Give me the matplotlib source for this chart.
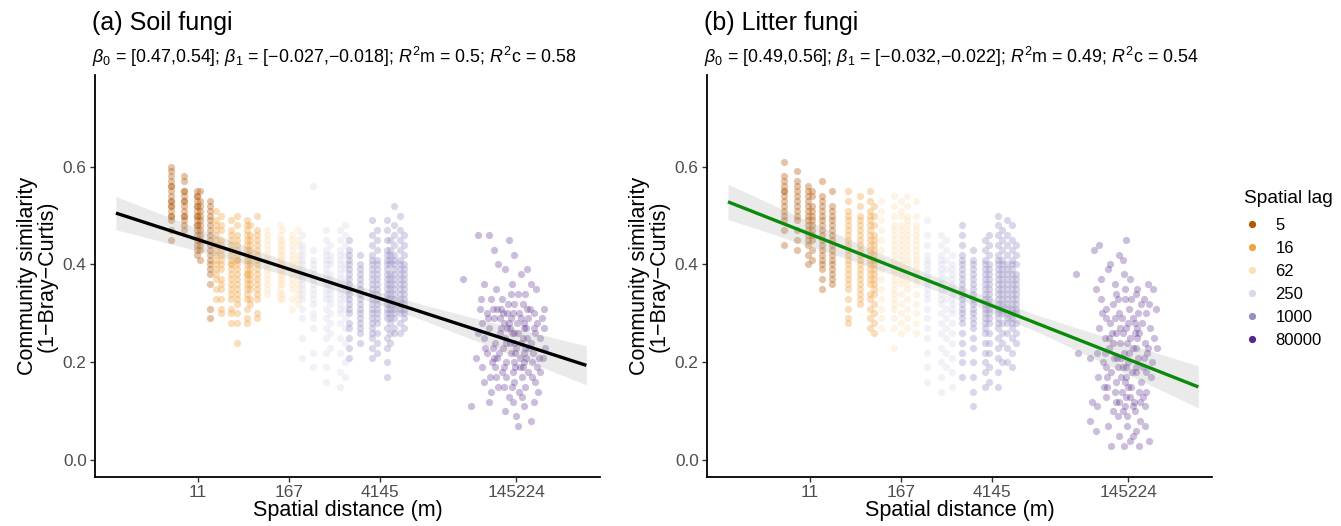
import numpy as np
import matplotlib
matplotlib.use("Agg")
import matplotlib.pyplot as plt
from matplotlib.lines import Line2D

plt.rcParams['font.family'] = ['Liberation Sans', 'DejaVu Sans']
plt.rcParams['mathtext.fontset'] = 'custom'
plt.rcParams['mathtext.rm'] = 'Liberation Sans'
plt.rcParams['mathtext.it'] = 'Liberation Sans:italic'

# ---------------- data ----------------
lag_labels = ['5', '16', '62', '250', '1000', '80000']
lag_colors = ['#b35806', '#f1a340', '#fee0b6', '#d8daeb', '#998ec3', '#542788']

x_tick_pos = [1, 2, 3, 4.5]
x_tick_labels = ['11', '167', '4145', '145224']

# stripes: (position on distance axis, lag index, similarity values x100)
soil_stripes = [
    (0.71, 0, "60 59 58 57 56 56 55 54 53 53 52 52 51 50 50 49 47 45"),
    (0.85, 0, "58 57 55 55 54 53 53 52 51 50 50 49 48 47"),
    (0.99, 0, "55 54 54 53 52 52 51 50 50 49 48 48 47 46 45 44 43 42"),
    (1.02, 0, "55 53 52 51 50 49 48 47 46 45 44 43 41"),
    (1.13, 0, "53 52 51 50 49 48 47 46 45 44 43 42 41 40 39 38 36 31 29"),
    (1.20, 1, "51 49 48 47 46 45 44 43 42 41 40 39 38 37 35 33"),
    (1.25, 1, "50 48 47 45 44 43 42 41 40 39 37 36 35 33 31 30"),
    (1.37, 1, "49 47 46 45 44 43 42 41 40 40 39 38 37 36 35 34 33 31 30 28"),
    (1.43, 1, "50 48 46 45 44 43 42 41 41 40 39 38 37 36 35 34 33 32 30 28 24"),
    (1.54, 1, "49 48 47 46 45 44 43 42 41 40 39 38 38 37 36 35 34 33 31 29 28"),
    (1.57, 1, "48 46 45 44 43 42 41 40 39 38 37 36 35 33 32"),
    (1.65, 1, "50 47 46 45 44 43 42 41 40 39 38 37 36 35 34 33 30 29"),
    (1.76, 2, "47 46 45 44 43 42 41 40 39 38 37 36 35 34"),
    (1.90, 2, "48 46 45 44 43 42 41 40 39 38 37 36 35 34 33"),
    (1.93, 2, "47 45 44 43 42 41 40 39 38 37 36 34 33"),
    (2.04, 2, "46 45 44 43 42 41 40 39 38 37 36 35 33 31"),
    (2.10, 2, "47 45 44 42 41 40 39 38 37 36 35 34 33 32"),
    (2.15, 3, "46 44 43 42 41 40 39 38 37 36 35 34 33 31 29 25 21"),
    (2.27, 3, "56 43 41 40 39 38 37 36 35 34 33 32 30 29 27 22 19"),
    (2.41, 3, "47 45 43 42 41 40 39 38 37 36 35 34 33 31 29 27 25 22 19 16"),
    (2.45, 3, "44 42 41 40 38 37 36 35 34 33 32 30 28 26 23"),
    (2.56, 3, "47 45 43 42 41 40 39 38 37 36 35 34 33 32 31 30 28 25 22 18 15"),
    (2.62, 3, "48 46 44 42 40 39 37 36 35 34 33 31 29 27 24 20 17"),
    (2.66, 4, "45 43 42 41 40 39 38 37 36 35 34 33 32 31 30 28 27 25 23 21"),
    (2.78, 4, "42 40 39 38 37 36 35 34 33 32 31 30 29 28 27 26 24"),
    (2.91, 4, "49 46 44 42 41 40 39 38 37 36 35 34 33 32 31 30 29 28 27 26 25 23 21"),
    (2.97, 4, "47 45 43 41 40 39 38 37 36 35 34 33 32 31 30 29 28 26 24 22"),
    (3.08, 4, "49 47 45 43 42 41 40 39 38 37 36 35 34 33 32 31 30 29 27 25 23 20 17"),
    (3.11, 4, "45 43 42 41 40 38 37 36 35 34 33 32 31 30 29 28 26 24"),
    (3.16, 4, "52 48 46 44 42 41 40 39 38 37 36 35 34 33 32 31 30 29 27 26"),
    (3.22, 4, "50 47 45 43 41 40 39 38 37 36 35 34 33 32 31 30 28 26"),
    (3.27, 4, "46 44 42 40 39 38 37 36 35 34 33 32 31 30 29 27"),
]

litter_stripes = [
    (0.72, 0, "61 58 57 56 55 55 54 53 52 51 50 49 47 44"),
    (0.86, 0, "59 57 56 55 54 53 52 51 50 49 47 45 43"),
    (0.98, 0, "56 55 54 53 52 51 50 49 48 47 46 45 44 42 40"),
    (1.02, 0, "55 54 52 51 50 49 48 47 46 45 43 41"),
    (1.13, 0, "57 54 53 52 51 50 49 48 47 46 45 44 43 42 41 40 39 37 35"),
    (1.24, 0, "55 52 51 50 49 48 47 46 45 44 43 42 41 40 39 38 37 36"),
    (1.42, 1, "55 53 51 50 49 48 47 46 45 44 43 42 41 40 39 38 37 36 35 33 31 29 28"),
    (1.55, 1, "54 52 50 49 48 47 46 45 44 43 42 41 40 39 38 37 36 35 34 33 32"),
    (1.66, 1, "55 53 51 50 49 48 47 46 45 44 43 42 41 40 39 38 37 36 34 33 31 29 27"),
    (1.71, 1, "52 50 48 46 45 44 43 42 41 40 39 38 37 36 35 34 32 30 28 26"),
    (1.78, 2, "53 51 49 47 45 43 41 39 37 35 33 31 29 27"),
    (1.92, 2, "54 52 50 48 47 46 45 44 43 42 41 40 39 38 37 36 35 34 33 32 31 29 27 23"),
    (2.00, 2, "53 51 50 48 47 46 45 44 43 42 41 40 39 38 37 36 34 32 30 28 26"),
    (2.07, 2, "54 52 50 49 48 47 46 45 44 43 42 41 40 39 38 37 36 35 33 31 29 27"),
    (2.17, 2, "53 50 48 47 46 45 44 43 42 41 40 39 38 37 36 34 32 30 28 26"),
    (2.29, 3, "49 46 44 42 41 40 39 38 37 36 35 34 33 31 29 27 25 22 19 16"),
    (2.44, 3, "46 44 42 41 40 39 38 37 36 35 34 33 32 30 28 26 23 20 17 14"),
    (2.50, 3, "45 43 41 39 37 35 33 31 29 27 25 22 19"),
    (2.56, 3, "42 40 39 38 37 36 35 34 33 32 31 30 28 26 24 21 18 15"),
    (2.67, 4, "48 46 44 42 41 40 39 38 37 36 35 34 33 32 31 30 29 28 26 24 22 20 17"),
    (2.79, 4, "43 41 40 39 38 37 36 35 34 33 32 31 30 29 28 27 25 23 20 17 14 11"),
    (2.92, 4, "45 43 41 40 39 38 37 36 35 34 33 32 31 30 29 28 27 26 24 22 20 18 15"),
    (2.97, 4, "46 44 42 40 39 38 37 36 35 34 33 32 31 30 29 28 26 24 22 19 16"),
    (3.07, 4, "50 48 46 44 42 41 40 39 38 37 36 35 34 33 32 31 30 29 28 27 25 23 21 18 15"),
    (3.11, 4, "47 45 43 41 40 39 38 37 36 35 34 33 32 31 30 28 26 24 20"),
    (3.17, 4, "49 46 44 42 40 39 38 37 36 35 34 33 32 31 30 29 28 26 23 20"),
    (3.22, 4, "48 45 43 41 40 39 38 37 36 35 34 33 32 31 30 29 28 27 25 22 19"),
    (3.27, 4, "44 42 40 38 37 36 35 34 33 32 31 30 28 26 24"),
]

# far cluster (lag 80000): x = 4 + code/100, y = code/100
soil_far_x = [8, 20, 42, 26, 47, 30, 55, 62, -9, 38, 15, 28, 45, 60, 72, 34, 52, 22, 66,
              10, 18, 25, 33, 40, 48, 55, 62, 70, 78, 36, 58, 44, 29, 12, 80,
              8, 14, 20, 27, 32, 38, 43, 47, 52, 57, 61, 66, 71, 76, 82, 24, 35, 50, 64, 45, 55, 40,
              6, 12, 18, 23, 29, 34, 39, 44, 49, 54, 59, 63, 68, 73, 79, 31, 46, 57,
              15, 22, 28, 36, 42, 48, 53, 60, 67, 74, 39, 56, 45,
              0, 20, 38, 50, 58, 66, 46, 52, 70,
              11, 19, 26, 33, 41, 47, 53, 58, 63, 69, 75, 81, 16, 24, 37, 43, 51, 56, 62, 67,
              73, 30, 48, 35, 60, 27, 44, 54, 65, 71, 39, 57, 21, 49, 59, 32, 46, 61, 76, 42]
soil_far_y = [46, 46, 45, 43, 42, 40, 38, 39, 37, 39, 36, 35, 36, 34, 35, 33, 34, 33, 36,
              31, 30, 29, 31, 30, 32, 29, 31, 30, 29, 28, 28, 29, 31, 28, 31,
              26, 25, 27, 24, 26, 25, 27, 24, 26, 25, 27, 24, 26, 25, 23, 23, 23, 23, 23, 26, 24, 27,
              21, 19, 22, 20, 21, 18, 20, 22, 19, 21, 20, 18, 22, 19, 21, 22, 18, 19,
              16, 14, 17, 15, 13, 16, 14, 15, 17, 14, 17, 13, 15,
              11, 12, 10, 9, 11, 8, 12, 7, 12,
              33, 29, 21, 27, 32, 20, 30, 22, 29, 27, 21, 27, 23, 31, 19, 24, 28, 17, 25, 20,
              28, 15, 26, 30, 23, 19, 34, 19, 31, 16, 24, 32, 17, 22, 27, 29, 30, 21, 18, 28]

litter_far_x = [12, 18, 47, 40, 44, 30,
                -8, 20, 28, 35, 45, 52, 15, 60, 72, 77,
                20, 25, 33, 40, 46, 51, 58, 64, 70, 26, 37, 55, 67, 80, 43,
                18, 24, 30, 36, 41, 47, 52, 57, 62, 68, 74, 33, 50, 44, 60, 78,
                -5, 8, 16, 22, 29, 34, 39, 45, 50, 55, 61, 66, 71, 76, 82, 42, 58, 26,
                17, 23, 31, 37, 43, 48, 53, 59, 64, 70, 75, 35, 46, 62, 27,
                10, 16, 25, 33, 40, 46, 52, 57, 63, 68, 49, 39, 56, 44,
                8, 14, 28, 40, 45, 52, 58, 62, 68, 73, 49, 31, 55,
                21, 32, 38, 47, 53, 59, 65, 73, 27, 41, 49, 54, 61, 67, 36, 44, 57, 50,
                63, 70, 24, 35, 46, 55, 42, 51, 60, 66, 72, 39, 48, 29]
litter_far_y = [43, 44, 45, 42, 41, 40,
                38, 37, 39, 36, 38, 37, 35, 35, 36, 35,
                33, 31, 32, 30, 33, 31, 34, 32, 30, 29, 34, 29, 33, 31, 29,
                27, 25, 28, 26, 24, 27, 25, 28, 26, 24, 27, 24, 28, 26, 25, 25,
                22, 21, 22, 20, 23, 21, 19, 22, 20, 23, 21, 19, 22, 20, 23, 21, 19, 19,
                17, 15, 18, 16, 14, 17, 15, 18, 16, 14, 17, 14, 16, 14, 15,
                12, 11, 13, 10, 12, 11, 13, 10, 12, 11, 9, 9, 12, 10,
                8, 6, 7, 5, 3, 4, 6, 3, 7, 4, 7, 3, 5,
                30, 26, 21, 19, 33, 23, 28, 32, 17, 27, 24, 18, 30, 21, 12, 19, 26, 15,
                8, 18, 22, 29, 35, 11, 17, 22, 27, 13, 23, 33, 13, 25]

# fitted lines and confidence band half-widths
line_x = [0.10, 5.27]
soil_line_y = [0.505, 0.194]
litter_line_y = [0.528, 0.150]
band_x = [0.10, 1.0, 2.0, 2.8, 3.5, 4.3, 5.27]
soil_band_hw = [0.034, 0.023, 0.014, 0.012, 0.016, 0.026, 0.040]
litter_band_hw = [0.036, 0.025, 0.015, 0.013, 0.017, 0.028, 0.043]

titles = ['(a) Soil fungi', '(b) Litter fungi']
subtitles = [r'$\beta_0$ = [0.47,0.54]; $\beta_1$ = [−0.027,−0.018]; $R^2$m = 0.5; $R^2$c = 0.58',
             r'$\beta_0$ = [0.49,0.56]; $\beta_1$ = [−0.032,−0.022]; $R^2$m = 0.49; $R^2$c = 0.54']
line_colors = ['black', '#0a8a0a']

# ---------------- plotting ----------------
W, H = 1341, 526
fig = plt.figure(figsize=(W / 100, H / 100), dpi=100)

panels = [
    (95, soil_stripes, soil_far_x, soil_far_y, soil_line_y, soil_band_hw),
    (707, litter_stripes, litter_far_x, litter_far_y, litter_line_y, litter_band_hw),
]
ax_w, top, bot = 505, 75, 477

for i, (left, stripes, fx, fy, ly, bhw) in enumerate(panels):
    ax = fig.add_axes([left / W, 1 - bot / H, ax_w / W, (bot - top) / H])
    for xpos, lag, ys in stripes:
        yv = np.array([int(v) for v in ys.split()]) / 100
        ax.scatter(np.full(len(yv), xpos), yv, s=27, color=lag_colors[lag],
                   alpha=0.35, linewidths=0, zorder=2)
    ax.scatter(4 + np.array(fx) / 100, np.array(fy) / 100, s=27, color=lag_colors[5],
               alpha=0.3, linewidths=0, zorder=2)
    bx = np.array(band_x)
    by = np.interp(bx, line_x, ly)
    ax.fill_between(bx, by - np.array(bhw), by + np.array(bhw), color='#999999',
                    alpha=0.2, linewidth=0, zorder=3)
    ax.plot(line_x, ly, color=line_colors[i], lw=2.4, zorder=4, solid_capstyle='butt')

    ax.set_xlim(-0.13, 5.42)
    ax.set_ylim(-0.034, 0.787)
    ax.set_xticks(x_tick_pos)
    ax.set_xticklabels(x_tick_labels)
    ax.set_yticks([0.0, 0.2, 0.4, 0.6])
    ax.set_yticklabels(['0.0', '0.2', '0.4', '0.6'])
    for s in ['top', 'right']:
        ax.spines[s].set_visible(False)
    for s in ['left', 'bottom']:
        ax.spines[s].set_linewidth(1.3)
        ax.spines[s].set_color('black')
    ax.tick_params(axis='both', length=3.5, width=1.0, color='#333333',
                   labelsize=12.4, labelcolor='#4d4d4d', pad=2.5)
    ax.set_xlabel('Spatial distance (m)', fontsize=15.5, color='black', labelpad=0)
    ax.set_ylabel('Community similarity\n(1−Bray−Curtis)', fontsize=15.5, color='black',
                  labelpad=4, linespacing=0.9)
    fig.text((left - 3) / W, 1 - 30 / H, titles[i], fontsize=18, ha='left', va='baseline')
    fig.text((left - 3) / W, 1 - 63 / H, subtitles[i], fontsize=12.9, ha='left', va='baseline')

handles = [Line2D([0], [0], marker='o', linestyle='', markersize=5.2,
                  markerfacecolor=c, markeredgewidth=0) for c in lag_colors]
leg = fig.legend(handles, lag_labels, title='Spatial lag', loc='upper left',
                 bbox_to_anchor=(1237 / W, 1 - 183 / H), frameon=False,
                 fontsize=12, title_fontsize=13.8, handlelength=1.0,
                 handletextpad=0.9, labelspacing=0.48, borderaxespad=0)
leg._legend_box.align = 'left'
leg._legend_box.sep = 8

fig.savefig('out.png', dpi=100)
